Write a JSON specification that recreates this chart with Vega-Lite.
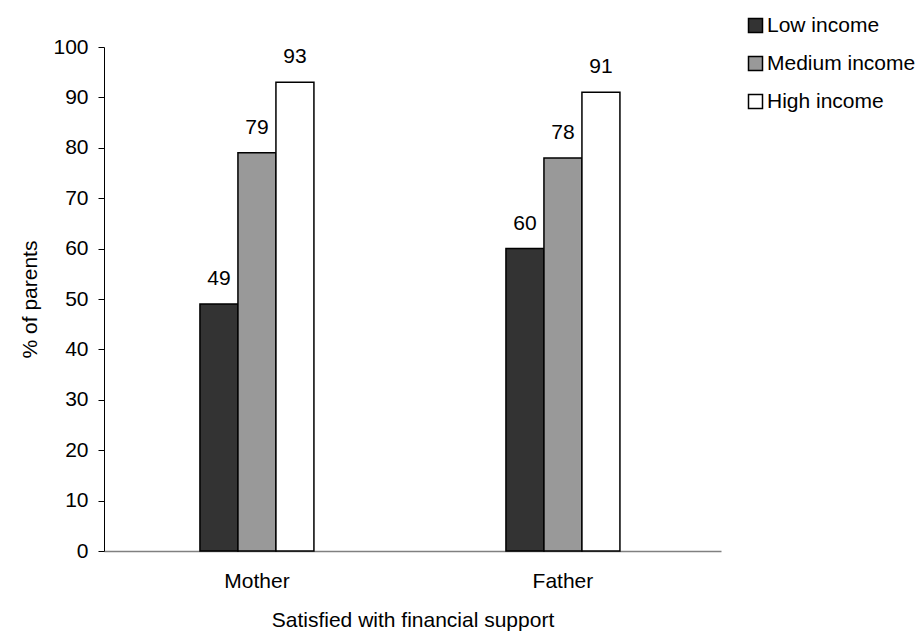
{
  "$schema": "https://vega.github.io/schema/vega-lite/v6.json",
  "autosize": "none",
  "padding": {"left": 104, "top": 47, "right": 201, "bottom": 84},
  "width": 617,
  "height": 504,
  "background": "white",
  "config": {
    "view": {"stroke": null},
    "font": "Liberation Sans",
    "text": {"font": "Liberation Sans"}
  },
  "data": {
    "values": [
      {"parent": "Mother", "income": "Low income", "pct": 49},
      {"parent": "Mother", "income": "Medium income", "pct": 79},
      {"parent": "Mother", "income": "High income", "pct": 93},
      {"parent": "Father", "income": "Low income", "pct": 60},
      {"parent": "Father", "income": "Medium income", "pct": 78},
      {"parent": "Father", "income": "High income", "pct": 91}
    ]
  },
  "encoding": {
    "x": {
      "field": "parent",
      "type": "nominal",
      "sort": ["Mother", "Father"],
      "scale": {"paddingInner": 0.6275, "paddingOuter": 0.3219, "align": 0.487},
      "axis": {
        "title": "Satisfied with financial support",
        "labelAngle": 0,
        "labelFontSize": 21,
        "labelColor": "black",
        "labelPadding": 19,
        "ticks": false,
        "domainColor": "#808080",
        "domainWidth": 1.5,
        "titleFontSize": 21,
        "titleFontWeight": "normal",
        "titleColor": "black",
        "titlePadding": 18
      }
    },
    "xOffset": {
      "field": "income",
      "type": "nominal",
      "sort": ["Low income", "Medium income", "High income"],
      "scale": {"paddingInner": 0, "paddingOuter": 0}
    },
    "y": {
      "field": "pct",
      "type": "quantitative",
      "scale": {"domain": [0, 100], "nice": false},
      "axis": {
        "title": "% of parents",
        "values": [0, 10, 20, 30, 40, 50, 60, 70, 80, 90, 100],
        "grid": false,
        "labelFontSize": 21,
        "labelColor": "black",
        "labelPadding": 10,
        "tickSize": 6,
        "tickColor": "black",
        "domainColor": "black",
        "titleFontSize": 21,
        "titleFontWeight": "normal",
        "titleColor": "black",
        "titlePadding": 12
      }
    }
  },
  "layer": [
    {
      "mark": {"type": "bar", "stroke": "black", "strokeWidth": 1.5},
      "encoding": {
        "fill": {
          "field": "income",
          "type": "nominal",
          "scale": {
            "domain": ["Low income", "Medium income", "High income"],
            "range": ["#333333", "#999999", "#ffffff"]
          },
          "legend": {
            "title": null,
            "orient": "none",
            "legendX": 641,
            "legendY": -32,
            "symbolType": "square",
            "symbolSize": 196,
            "symbolStrokeColor": "black",
            "symbolStrokeWidth": 1.5,
            "labelFontSize": 21,
            "labelColor": "black",
            "labelOffset": 1,
            "rowPadding": 16
          }
        }
      }
    },
    {
      "mark": {"type": "text", "fontSize": 21, "color": "black", "baseline": "alphabetic", "dy": -19},
      "encoding": {
        "text": {"field": "pct", "type": "quantitative"}
      }
    }
  ]
}
